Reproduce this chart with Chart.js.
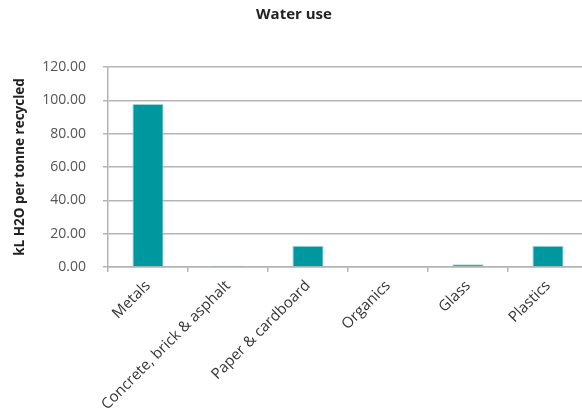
<!DOCTYPE html>
<html>
<head>
<meta charset="utf-8">
<script src="https://cdn.jsdelivr.net/npm/chart.js@4"></script>
<style>
  html, body { margin: 0; padding: 0; background: #fff; overflow: hidden; }
  #wrap { width: 592px; height: 418px; position: relative; }
</style>
</head>
<body>
<div id="wrap"><canvas id="chart"></canvas></div>
<script>
// data
var categories = ["Metals", "Concrete, brick & asphalt", "Paper & cardboard", "Organics", "Glass", "Plastics"];
var waterUse = [97.8, 0.8, 12.8, 0, 1.6, 12.8];
var yTicks = [0, 20, 40, 60, 80, 100, 120];

var fontFamily = "'Open Sans', 'Noto Sans', sans-serif";
var gridColor = "#b4b4b4";

var ctx = document.getElementById("chart").getContext("2d");
new Chart(ctx, {
	type: "bar",
	data: {
		labels: categories,
		datasets: [{
			label: "Water use",
			data: waterUse,
			backgroundColor: "#00989f",
			borderColor: "#9fd6da",
			borderWidth: 1,
			barPercentage: 0.39,
			categoryPercentage: 1
		}]
	},
	options: {
		responsive: true,
		maintainAspectRatio: false,
		animation: false,
		layout: { padding: { left: 0, right: 4, top: 0, bottom: 0 } },
		plugins: {
			legend: { display: false },
			tooltip: { enabled: false },
			title: {
				display: true,
				text: "Water use",
				color: "#222",
				font: { family: fontFamily, size: 15, weight: "bold" },
				padding: { top: 6, bottom: 43 }
			}
		},
		scales: {
			x: {
				grid: {
					offset: true,
					drawOnChartArea: false,
					drawTicks: true,
					tickLength: 5,
					color: gridColor,
					lineWidth: 1.5
				},
				border: { color: gridColor, width: 1.5 },
				ticks: {
					color: "#333",
					font: { family: fontFamily, size: 15 },
					minRotation: 45,
					maxRotation: 45,
					padding: 5
				},
				afterFit: function(scale) { scale.height = 151; }
			},
			y: {
				min: 0,
				max: 120,
				afterBuildTicks: function(scale) {
					scale.ticks = yTicks.map(function(v) { return { value: v }; });
				},
				grid: {
					color: gridColor,
					lineWidth: 1.5,
					tickLength: 5
				},
				border: { color: gridColor, width: 1.5 },
				ticks: {
					color: "#555",
					font: { family: fontFamily, size: 14 },
					padding: 17,
					callback: function(v) { return Number(v).toFixed(2); }
				},
				title: {
					display: true,
					text: "kL H2O per tonne recycled",
					color: "#222",
					font: { family: fontFamily, size: 13.5, weight: "bold" },
					padding: { top: 12, bottom: 0 }
				},
				afterFit: function(scale) { scale.width = 108; }
			}
		}
	}
});
</script>
</body>
</html>
